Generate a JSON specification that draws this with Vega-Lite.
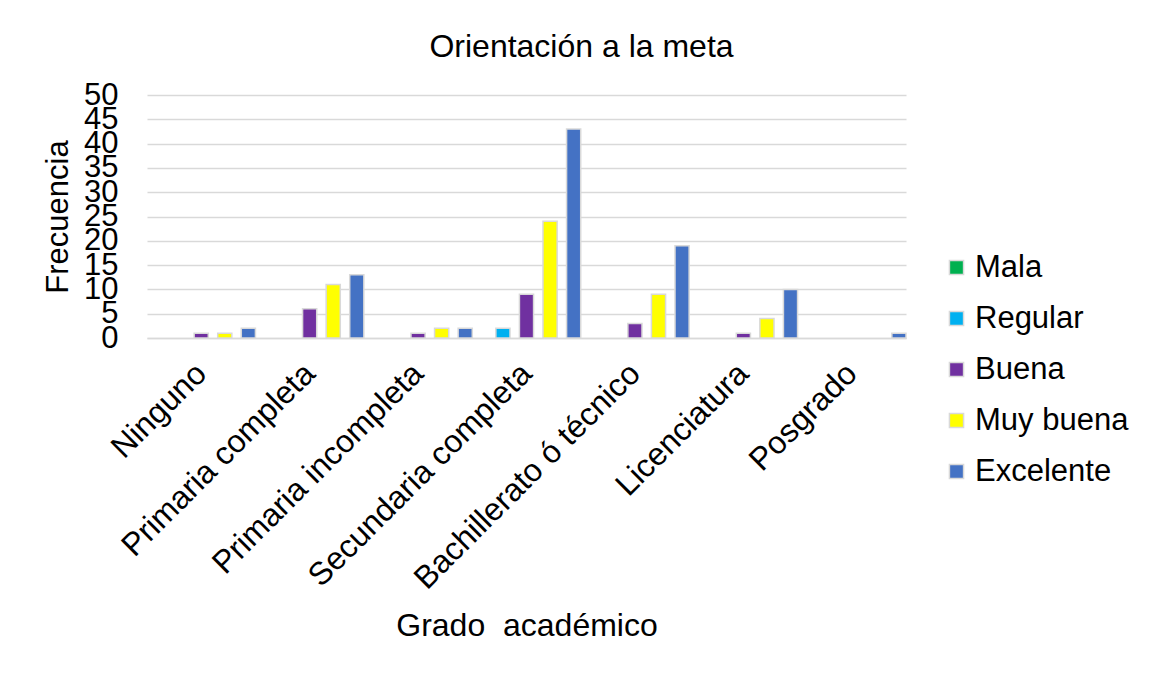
{
  "$schema": "https://vega.github.io/schema/vega-lite/v6.json",
  "width": 759,
  "height": 243,
  "autosize": "none",
  "padding": {"left": 147, "top": 95, "right": 245, "bottom": 335},
  "background": "white",
  "config": {
    "font": "Liberation Sans",
    "view": {"stroke": null},
    "axis": {"labelColor": "#000000", "titleColor": "#000000", "titleFontWeight": "normal", "labelFont": "Liberation Sans", "titleFont": "Liberation Sans"},
    "legend": {"labelColor": "#000000", "labelFont": "Liberation Sans"}
  },
  "title": {
    "text": "Orientación a la meta",
    "fontSize": 32,
    "fontWeight": "normal",
    "color": "#000000",
    "font": "Liberation Sans",
    "anchor": "middle",
    "baseline": "alphabetic",
    "offset": -10,
    "dx": 55
  },
  "data": {
    "values": [
      {"grado": "Ninguno", "nivel": "Buena", "valor": 1},
      {"grado": "Ninguno", "nivel": "Muy buena", "valor": 1},
      {"grado": "Ninguno", "nivel": "Excelente", "valor": 2},
      {"grado": "Primaria completa", "nivel": "Buena", "valor": 6},
      {"grado": "Primaria completa", "nivel": "Muy buena", "valor": 11},
      {"grado": "Primaria completa", "nivel": "Excelente", "valor": 13},
      {"grado": "Primaria incompleta", "nivel": "Buena", "valor": 1},
      {"grado": "Primaria incompleta", "nivel": "Muy buena", "valor": 2},
      {"grado": "Primaria incompleta", "nivel": "Excelente", "valor": 2},
      {"grado": "Secundaria completa", "nivel": "Regular", "valor": 2},
      {"grado": "Secundaria completa", "nivel": "Buena", "valor": 9},
      {"grado": "Secundaria completa", "nivel": "Muy buena", "valor": 24},
      {"grado": "Secundaria completa", "nivel": "Excelente", "valor": 43},
      {"grado": "Bachillerato ó técnico", "nivel": "Buena", "valor": 3},
      {"grado": "Bachillerato ó técnico", "nivel": "Muy buena", "valor": 9},
      {"grado": "Bachillerato ó técnico", "nivel": "Excelente", "valor": 19},
      {"grado": "Licenciatura", "nivel": "Buena", "valor": 1},
      {"grado": "Licenciatura", "nivel": "Muy buena", "valor": 4},
      {"grado": "Licenciatura", "nivel": "Excelente", "valor": 10},
      {"grado": "Posgrado", "nivel": "Excelente", "valor": 1}
    ]
  },
  "mark": {"type": "bar", "stroke": "#d9d9d9", "strokeWidth": 1.5},
  "encoding": {
    "x": {
      "field": "grado",
      "type": "nominal",
      "sort": ["Ninguno", "Primaria completa", "Primaria incompleta", "Secundaria completa", "Bachillerato ó técnico", "Licenciatura", "Posgrado"],
      "scale": {"paddingInner": 0, "paddingOuter": 0},
      "axis": {
        "title": "Grado\u00a0 académico",
        "titleFontSize": 32,
        "titleY": 297,
        "titleBaseline": "alphabetic",
        "labelAngle": -45,
        "labelAlign": "right",
        "labelBaseline": "middle",
        "labelFontSize": 32,
        "labelPadding": 30,
        "labelLimit": 0,
        "labelOverlap": false,
        "ticks": false,
        "domain": true,
        "domainColor": "#d9d9d9",
        "domainWidth": 1.5
      }
    },
    "y": {
      "field": "valor",
      "type": "quantitative",
      "scale": {"domain": [0, 50], "nice": false},
      "axis": {
        "title": "Frecuencia",
        "titleFontSize": 31,
        "titleX": -80,
        "titleBaseline": "alphabetic",
        "values": [0, 5, 10, 15, 20, 25, 30, 35, 40, 45, 50],
        "labelFontSize": 31,
        "labelPadding": 29,
        "labelOverlap": false,
        "ticks": false,
        "tickSize": 0,
        "domain": false,
        "grid": true,
        "gridColor": "#d9d9d9",
        "gridWidth": 1.5
      }
    },
    "xOffset": {
      "field": "nivel",
      "type": "nominal",
      "scale": {"domain": ["Mala", "Regular", "Buena", "Muy buena", "Excelente"], "paddingInner": 0.4, "paddingOuter": 0}
    },
    "color": {
      "field": "nivel",
      "type": "nominal",
      "scale": {"domain": ["Mala", "Regular", "Buena", "Muy buena", "Excelente"], "range": ["#00b050", "#00b0f0", "#7030a0", "#ffff00", "#4472c4"]},
      "legend": {
        "title": null,
        "orient": "none",
        "legendX": 794,
        "legendY": 157,
        "labelFontSize": 31,
        "labelLimit": 0,
        "symbolType": "square",
        "symbolSize": 200,
        "symbolStrokeColor": "#d9d9d9",
        "symbolStrokeWidth": 1.5,
        "symbolOpacity": 1,
        "rowPadding": 19,
        "labelOffset": 3
      }
    }
  }
}
